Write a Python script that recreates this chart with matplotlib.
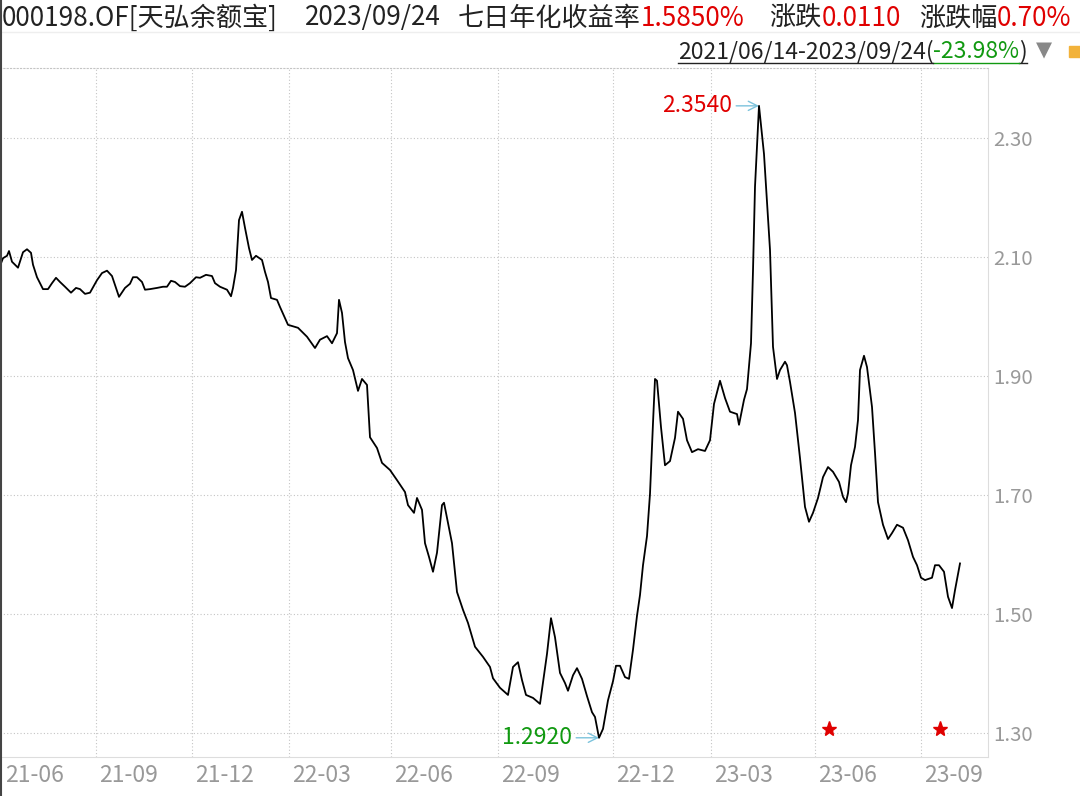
import matplotlib
matplotlib.use("Agg")
import matplotlib.pyplot as plt
from matplotlib.lines import Line2D
from matplotlib.patches import Rectangle
import numpy as np

plt.rcParams['font.family'] = ['Noto Sans CJK SC', 'DejaVu Sans']

# 7-day annualised yield, sampled along the chart's day index
idx = [0, 3, 7, 9, 12, 15, 18, 23, 27, 31, 33, 37, 43, 48, 52, 56, 60, 65, 71, 76,
       80, 85, 90, 97, 102, 107, 112, 115, 119, 125, 130, 133, 137, 142, 145, 150, 157, 163, 167, 171,
       175, 180, 185, 190, 196, 200, 206, 212, 215, 220, 227, 231, 233, 236, 238, 239, 242, 245, 249, 252,
       256, 262, 265, 268, 271, 277, 280, 288, 298, 307, 315, 320, 327, 332, 337, 339, 342, 345, 348, 353,
       358, 362, 367, 370, 377, 382, 390, 397, 405, 408, 414, 417, 422, 425, 429, 433, 437, 442, 444, 448,
       452, 457, 463, 468, 475, 483, 490, 493, 500, 508, 513, 518, 522, 526, 533, 540, 547, 551, 555, 560,
       565, 568, 573, 577, 582, 587, 592, 595, 599, 603, 608, 613, 616, 620, 625, 629, 633, 637, 640, 643,
       647, 650, 653, 655, 657, 661, 665, 670, 675, 678, 683, 687, 692, 698, 705, 710, 714, 720, 725, 730,
       737, 739, 744, 747, 751, 753, 755, 759, 764, 770, 773, 777, 780, 785, 787, 790, 795, 800, 805, 809,
       813, 818, 823, 828, 833, 839, 843, 846, 848, 851, 855, 858, 860, 864, 867, 872, 875, 878, 883, 888,
       892, 897, 903, 908, 913, 917, 921, 925, 932, 935, 939, 944, 948, 952, 955, 960]
yield7 = [2.085, 2.098, 2.102, 2.110, 2.092, 2.087, 2.082, 2.108, 2.113, 2.107, 2.087, 2.066, 2.046, 2.046, 2.056, 2.065, 2.058, 2.050, 2.040, 2.048,
          2.046, 2.038, 2.040, 2.061, 2.073, 2.077, 2.068, 2.053, 2.033, 2.048, 2.055, 2.066, 2.066, 2.058, 2.045, 2.046, 2.048, 2.050, 2.050, 2.060,
          2.058, 2.051, 2.050, 2.056, 2.066, 2.065, 2.070, 2.068, 2.056, 2.050, 2.045, 2.034, 2.048, 2.078, 2.134, 2.162, 2.176, 2.149, 2.115, 2.095,
          2.102, 2.095, 2.075, 2.058, 2.031, 2.028, 2.016, 1.986, 1.981, 1.966, 1.947, 1.961, 1.967, 1.955, 1.972, 2.028, 2.006, 1.957, 1.930, 1.910,
          1.875, 1.895, 1.885, 1.797, 1.779, 1.754, 1.742, 1.725, 1.705, 1.683, 1.670, 1.695, 1.675, 1.619, 1.596, 1.571, 1.603, 1.683, 1.687, 1.653,
          1.619, 1.537, 1.507, 1.485, 1.445, 1.428, 1.411, 1.392, 1.376, 1.364, 1.411, 1.419, 1.389, 1.364, 1.359, 1.349, 1.433, 1.493, 1.461, 1.401,
          1.384, 1.371, 1.397, 1.409, 1.391, 1.362, 1.335, 1.327, 1.292, 1.307, 1.355, 1.387, 1.413, 1.413, 1.394, 1.391, 1.440, 1.497, 1.532, 1.582,
          1.631, 1.702, 1.821, 1.895, 1.892, 1.814, 1.750, 1.757, 1.796, 1.840, 1.828, 1.792, 1.772, 1.777, 1.774, 1.792, 1.853, 1.892, 1.863, 1.840,
          1.836, 1.818, 1.860, 1.878, 1.955, 2.077, 2.218, 2.354, 2.273, 2.112, 1.949, 1.895, 1.910, 1.924, 1.918, 1.890, 1.838, 1.762, 1.680, 1.655,
          1.670, 1.695, 1.730, 1.747, 1.739, 1.722, 1.697, 1.688, 1.703, 1.750, 1.781, 1.826, 1.910, 1.934, 1.915, 1.848, 1.771, 1.688, 1.650, 1.626,
          1.636, 1.650, 1.645, 1.624, 1.596, 1.582, 1.561, 1.557, 1.561, 1.582, 1.582, 1.571, 1.529, 1.510, 1.540, 1.585]

quarter_idx = [96, 192, 289, 391, 498, 613, 711, 815, 921]
quarter_labels = ["21-09", "21-12", "22-03", "22-06", "22-09", "22-12", "23-03", "23-06", "23-09"]
first_label = "21-06"
y_ticks = [1.30, 1.50, 1.70, 1.90, 2.10, 2.30]
event_idx = [829, 940]
event_val = [1.307, 1.307]

# header segments: text, colour, gap before it (px)
title_parts = [("000198.OF[天弘余额宝]", "#222222", 0),
               ("2023/09/24", "#222222", 27),
               ("七日年化收益率", "#222222", 17),
               ("1.5850%", "#e00000", 0),
               ("涨跌", "#222222", 25),
               ("0.0110", "#e00000", 0),
               ("涨跌幅", "#222222", 18),
               ("0.70%", "#e00000", 0)]
range_parts = [("2021/06/14-2023/09/24(", "#222222"), ("-23.98%", "#119911"), (")", "#222222")]

W, H = 1080, 796
RED = "#e00000"
GREEN = "#119911"
ARROW = "#7cc3dc"
GRID = "#c4c4c4"

fig = plt.figure(figsize=(W / 100, H / 100), dpi=100)
ax = fig.add_axes([0 / W, (H - 757) / H, 988 / W, (757 - 68) / H])

ax.plot(idx, yield7, color="black", lw=1.3, solid_joinstyle="round")
ax.plot(event_idx, event_val, ls="none", marker="*", ms=11, color=RED, mec=RED)

ax.set_xlim(0, 988)
ax.set_ylim(1.2597, 2.4176)

for q in quarter_idx:
    ax.axvline(q, color=GRID, lw=0.8, ls=(0, (1, 2)), zorder=0)
for t in y_ticks:
    ax.axhline(t, color=GRID, lw=0.8, ls=(0, (1, 2)), zorder=0)

ax.set_xticks([])
ax.yaxis.tick_right()
ax.set_yticks(y_ticks)
ax.set_yticklabels([f"{t:.2f}" for t in y_ticks])
ax.tick_params(axis="y", length=0, pad=4, labelsize=14.7, labelcolor="#999999")

for s in ["right", "bottom"]:
    ax.spines[s].set_color("#dddddd")
    ax.spines[s].set_linewidth(0.8)
ax.spines["top"].set_color(GRID)
ax.spines["top"].set_linestyle((0, (1, 2)))
ax.spines["top"].set_linewidth(0.8)
ax.spines["left"].set_visible(False)

# x labels, left-aligned just after each quarter line
ax.annotate(first_label, xy=(0, 0), xycoords=("data", "axes fraction"), xytext=(5, -18),
            textcoords="offset pixels", ha="left", va="center", fontsize=16.5, color="#999999")
for q, lab in zip(quarter_idx, quarter_labels):
    ax.annotate(lab, xy=(q, 0), xycoords=("data", "axes fraction"), xytext=(3, -18),
                textcoords="offset pixels", ha="left", va="center", fontsize=16.5, color="#999999")

# max / min markers
y_arr = np.array(yield7)
i_max, i_min = int(np.argmax(y_arr)), int(np.argmin(y_arr))
for i, col in [(i_max, RED), (i_min, GREEN)]:
    ax.annotate(f"{yield7[i]:.4f}", xy=(idx[i], yield7[i]), xytext=(-27, 0), textcoords="offset pixels",
                ha="right", va="center", fontsize=16.5, color=col,
                arrowprops=dict(arrowstyle="->", color=ARROW, lw=1, shrinkA=1, shrinkB=0))

renderer = fig.canvas.get_renderer()

# header line: chain the segments, then shrink the font so it ends at ~1076 px
def draw_header(size):
    texts, x = [], 2
    for s, c, gap in title_parts:
        x += gap
        t = fig.text(x / W, 1 - 18 / H, s, color=c, fontsize=size, ha="left", va="center")
        x += t.get_window_extent(renderer).width
        texts.append(t)
    return texts, x

texts, end = draw_header(19.5)
if end > 1076:
    for t in texts:
        t.remove()
    gaps = sum(g for _, _, g in title_parts)
    draw_header(19.5 * (1076 - 2 - gaps) / (end - 2 - gaps))

fig.add_artist(Line2D([0, 1], [1 - 32 / H, 1 - 32 / H], color="#eeeeee", lw=1))
# dark window edge on the left
fig.add_artist(Line2D([1 / W, 1 / W], [0, 1], color="#444444", lw=1.5))

# date range line, right-aligned, underlined
x = 1027
for s, c in reversed(range_parts):
    t = fig.text(x / W, 1 - 52 / H, s, color=c, fontsize=16.5, ha="right", va="center")
    w = t.get_window_extent(renderer).width
    fig.add_artist(Line2D([(x - w) / W, x / W], [1 - 63 / H, 1 - 63 / H], color=c, lw=1))
    x -= w
fig.text(1044 / W, 1 - 50 / H, "▼", color="#888888", fontsize=15, ha="center", va="center",
         family=["DejaVu Sans"])
fig.add_artist(Rectangle((1069 / W, 1 - 57 / H), 12 / W, 11 / H, color="#f2b23a", transform=fig.transFigure))

fig.savefig("out.png", dpi=100)
